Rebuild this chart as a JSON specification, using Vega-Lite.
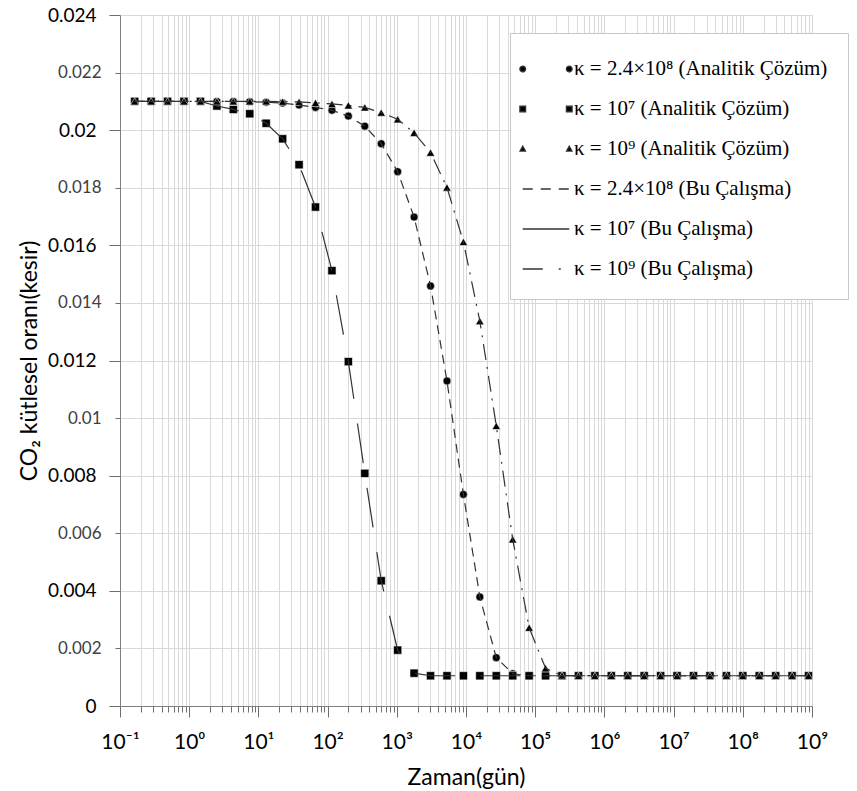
{
  "$schema": "https://vega.github.io/schema/vega-lite/v6.json",
  "width": 692,
  "height": 691,
  "autosize": {"type": "none"},
  "padding": {"left": 120, "top": 15, "right": 45, "bottom": 85},
  "background": "white",
  "config": {"view": {"stroke": null}, "font": "Lato"},
  "data": {"values": [
    {"t": 0.1631, "a24e8": 0.021, "a1e7": 0.021, "a1e9": 0.021, "b24e8": 0.021, "b1e7": 0.021, "b1e9": 0.021},
    {"t": 0.2818, "a24e8": 0.021, "a1e7": 0.021, "a1e9": 0.021, "b24e8": 0.021, "b1e7": 0.021, "b1e9": 0.021},
    {"t": 0.487, "a24e8": 0.021, "a1e7": 0.021, "a1e9": 0.021, "b24e8": 0.021, "b1e7": 0.021, "b1e9": 0.021},
    {"t": 0.8414, "a24e8": 0.021, "a1e7": 0.021, "a1e9": 0.021, "b24e8": 0.021, "b1e7": 0.021, "b1e9": 0.021},
    {"t": 1.454, "a24e8": 0.021, "a1e7": 0.021, "a1e9": 0.021, "b24e8": 0.021, "b1e7": 0.021, "b1e9": 0.021},
    {"t": 2.512, "a24e8": 0.021, "a1e7": 0.02084, "a1e9": 0.021, "b24e8": 0.021, "b1e7": 0.02084, "b1e9": 0.021},
    {"t": 4.341, "a24e8": 0.021, "a1e7": 0.02072, "a1e9": 0.021, "b24e8": 0.021, "b1e7": 0.02072, "b1e9": 0.021},
    {"t": 7.499, "a24e8": 0.02099, "a1e7": 0.02057, "a1e9": 0.021, "b24e8": 0.02099, "b1e7": 0.02057, "b1e9": 0.021},
    {"t": 12.96, "a24e8": 0.02097, "a1e7": 0.02024, "a1e9": 0.021, "b24e8": 0.02097, "b1e7": 0.02024, "b1e9": 0.021},
    {"t": 22.39, "a24e8": 0.02094, "a1e7": 0.0197, "a1e9": 0.02099, "b24e8": 0.02094, "b1e7": 0.0197, "b1e9": 0.02099},
    {"t": 38.68, "a24e8": 0.02087, "a1e7": 0.0188, "a1e9": 0.02098, "b24e8": 0.02087, "b1e7": 0.0188, "b1e9": 0.02098},
    {"t": 66.83, "a24e8": 0.02079, "a1e7": 0.01733, "a1e9": 0.02095, "b24e8": 0.02079, "b1e7": 0.01733, "b1e9": 0.02095},
    {"t": 115.5, "a24e8": 0.02069, "a1e7": 0.01512, "a1e9": 0.02091, "b24e8": 0.02069, "b1e7": 0.01512, "b1e9": 0.02091},
    {"t": 199.5, "a24e8": 0.02049, "a1e7": 0.01196, "a1e9": 0.02086, "b24e8": 0.02049, "b1e7": 0.01196, "b1e9": 0.02086},
    {"t": 344.7, "a24e8": 0.02014, "a1e7": 0.00808, "a1e9": 0.02079, "b24e8": 0.02014, "b1e7": 0.00808, "b1e9": 0.02079},
    {"t": 595.7, "a24e8": 0.01953, "a1e7": 0.00435, "a1e9": 0.02061, "b24e8": 0.01953, "b1e7": 0.00435, "b1e9": 0.02061},
    {"t": 1029, "a24e8": 0.01856, "a1e7": 0.00194, "a1e9": 0.02038, "b24e8": 0.01856, "b1e7": 0.00194, "b1e9": 0.02038},
    {"t": 1778, "a24e8": 0.01698, "a1e7": 0.00114, "a1e9": 0.01991, "b24e8": 0.01698, "b1e7": 0.00114, "b1e9": 0.01991},
    {"t": 3073, "a24e8": 0.01459, "a1e7": 0.00105, "a1e9": 0.01922, "b24e8": 0.01459, "b1e7": 0.00105, "b1e9": 0.01922},
    {"t": 5309, "a24e8": 0.01129, "a1e7": 0.00105, "a1e9": 0.01801, "b24e8": 0.01129, "b1e7": 0.00105, "b1e9": 0.01801},
    {"t": 9173, "a24e8": 0.00735, "a1e7": 0.00105, "a1e9": 0.01612, "b24e8": 0.00735, "b1e7": 0.00105, "b1e9": 0.01612},
    {"t": 15849, "a24e8": 0.00379, "a1e7": 0.00105, "a1e9": 0.01337, "b24e8": 0.00379, "b1e7": 0.00105, "b1e9": 0.01337},
    {"t": 27384, "a24e8": 0.00168, "a1e7": 0.00105, "a1e9": 0.00973, "b24e8": 0.00168, "b1e7": 0.00105, "b1e9": 0.00973},
    {"t": 47315, "a24e8": 0.00112, "a1e7": 0.00105, "a1e9": 0.00579, "b24e8": 0.00112, "b1e7": 0.00105, "b1e9": 0.00579},
    {"t": 81752, "a24e8": 0.00105, "a1e7": 0.00105, "a1e9": 0.00272, "b24e8": 0.00105, "b1e7": 0.00105, "b1e9": 0.00272},
    {"t": 141254, "a24e8": 0.00105, "a1e7": 0.00105, "a1e9": 0.00131, "b24e8": 0.00105, "b1e7": 0.00105, "b1e9": 0.00131},
    {"t": 244062, "a24e8": 0.00105, "a1e7": 0.00105, "a1e9": 0.00106, "b24e8": 0.00105, "b1e7": 0.00105, "b1e9": 0.00106},
    {"t": 421697, "a24e8": 0.00105, "a1e7": 0.00105, "a1e9": 0.00105, "b24e8": 0.00105, "b1e7": 0.00105, "b1e9": 0.00105},
    {"t": 728618, "a24e8": 0.00105, "a1e7": 0.00105, "a1e9": 0.00105, "b24e8": 0.00105, "b1e7": 0.00105, "b1e9": 0.00105},
    {"t": 1258925, "a24e8": 0.00105, "a1e7": 0.00105, "a1e9": 0.00105, "b24e8": 0.00105, "b1e7": 0.00105, "b1e9": 0.00105},
    {"t": 2175204, "a24e8": 0.00105, "a1e7": 0.00105, "a1e9": 0.00105, "b24e8": 0.00105, "b1e7": 0.00105, "b1e9": 0.00105},
    {"t": 3758374, "a24e8": 0.00105, "a1e7": 0.00105, "a1e9": 0.00105, "b24e8": 0.00105, "b1e7": 0.00105, "b1e9": 0.00105},
    {"t": 6493816, "a24e8": 0.00105, "a1e7": 0.00105, "a1e9": 0.00105, "b24e8": 0.00105, "b1e7": 0.00105, "b1e9": 0.00105},
    {"t": 11220185, "a24e8": 0.00105, "a1e7": 0.00105, "a1e9": 0.00105, "b24e8": 0.00105, "b1e7": 0.00105, "b1e9": 0.00105},
    {"t": 19386526, "a24e8": 0.00105, "a1e7": 0.00105, "a1e9": 0.00105, "b24e8": 0.00105, "b1e7": 0.00105, "b1e9": 0.00105},
    {"t": 33496544, "a24e8": 0.00105, "a1e7": 0.00105, "a1e9": 0.00105, "b24e8": 0.00105, "b1e7": 0.00105, "b1e9": 0.00105},
    {"t": 57876000, "a24e8": 0.00105, "a1e7": 0.00105, "a1e9": 0.00105, "b24e8": 0.00105, "b1e7": 0.00105, "b1e9": 0.00105},
    {"t": 100000000, "a24e8": 0.00105, "a1e7": 0.00105, "a1e9": 0.00105, "b24e8": 0.00105, "b1e7": 0.00105, "b1e9": 0.00105},
    {"t": 172780000, "a24e8": 0.00105, "a1e7": 0.00105, "a1e9": 0.00105, "b24e8": 0.00105, "b1e7": 0.00105, "b1e9": 0.00105},
    {"t": 298540000, "a24e8": 0.00105, "a1e7": 0.00105, "a1e9": 0.00105, "b24e8": 0.00105, "b1e7": 0.00105, "b1e9": 0.00105},
    {"t": 515820000, "a24e8": 0.00105, "a1e7": 0.00105, "a1e9": 0.00105, "b24e8": 0.00105, "b1e7": 0.00105, "b1e9": 0.00105},
    {"t": 891250000, "a24e8": 0.00105, "a1e7": 0.00105, "a1e9": 0.00105, "b24e8": 0.00105, "b1e7": 0.00105, "b1e9": 0.00105}
  ]},
  "resolve": {
    "scale": {"shape": "independent", "strokeDash": "independent", "size": "independent"},
    "axis": {"x": "independent", "y": "independent"}
  },
  "layer": [
    {
      "transform": [{"fold": ["a24e8", "a1e7", "a1e9", "b24e8", "b1e7", "b1e9"], "as": ["seri", "v"]}],
      "mark": {"type": "point", "filled": false, "fill": "black", "color": "#333333", "stroke": "#333333", "strokeWidth": 1.3, "size": 0},
      "encoding": {
        "x": {
          "field": "t", "type": "quantitative",
          "scale": {"type": "log", "domain": [0.1, 1000000000], "nice": false},
          "axis": {
            "orient": "bottom",
            "values": [0.2,0.3,0.4,0.5,0.6,0.7,0.8,0.9,2,3,4,5,6,7,8,9,20,30,40,50,60,70,80,90,200,300,400,500,600,700,800,900,2000,3000,4000,5000,6000,7000,8000,9000,20000,30000,40000,50000,60000,70000,80000,90000,200000,300000,400000,500000,600000,700000,800000,900000,2000000,3000000,4000000,5000000,6000000,7000000,8000000,9000000,20000000,30000000,40000000,50000000,60000000,70000000,80000000,90000000,200000000,300000000,400000000,500000000,600000000,700000000,800000000,900000000],
            "labels": false,
            "domain": false,
            "tickSize": 6,
            "tickColor": "#6f6f6f",
            "grid": true,
            "gridColor": "#d9d9d9",
            "title": null
          }
        },
        "y": {
          "field": "v", "type": "quantitative",
          "scale": {"domain": [0, 0.024], "nice": false},
          "axis": {
            "orient": "left",
            "values": [0.002,0.006,0.01,0.014,0.018,0.022],
            "format": "~g",
            "labelFont": "Lato",
            "labelFontSize": 17,
            "labelColor": "#404040",
            "labelPadding": 14,
            "tickSize": 5,
            "tickColor": "#6f6f6f",
            "domain": false,
            "grid": true,
            "gridColor": "#d9d9d9",
            "title": null
          }
        },
        "shape": {
          "field": "seri", "type": "nominal",
          "scale": {
            "domain": ["a24e8", "a1e7", "a1e9", "b24e8", "b1e7", "b1e9"],
            "range": [
              "M-1.74,0A0.19,0.19 0 1,0 -1.36,0A0.19,0.19 0 1,0 -1.74,0Z M1.36,0A0.19,0.19 0 1,0 1.74,0A0.19,0.19 0 1,0 1.36,0Z",
              "M-1.74,-0.19H-1.36V0.19H-1.74Z M1.36,-0.19H1.74V0.19H1.36Z",
              "M-1.55,-0.19L-1.37,0.14H-1.73Z M1.55,-0.19L1.73,0.14H1.37Z",
              "M-1.55,0H1.55",
              "M-1.55,0H1.55",
              "M-1.55,0H1.55"
            ]
          },
          "legend": {
            "orient": "none",
            "legendX": 390,
            "legendY": 18,
            "title": null,
            "direction": "vertical",
            "labelExpr": "datum.value === 'a24e8' ? 'κ = 2.4×10⁸ (Analitik Çözüm)' : datum.value === 'a1e7' ? 'κ = 10⁷ (Analitik Çözüm)' : datum.value === 'a1e9' ? 'κ = 10⁹ (Analitik Çözüm)' : datum.value === 'b24e8' ? 'κ = 2.4×10⁸ (Bu Çalışma)' : datum.value === 'b1e7' ? 'κ = 10⁷ (Bu Çalışma)' : 'κ = 10⁹ (Bu Çalışma)'",
            "labelFont": "Liberation Serif",
            "labelFontSize": 21,
            "labelColor": "black",
            "labelLimit": 500,
            "labelOffset": 12,
            "symbolSize": 900,
            "symbolStrokeWidth": 1.3,
            "symbolOpacity": 1,
            "padding": 20,
            "rowPadding": 14,
            "strokeColor": "#c8c8c8",
            "fillColor": "white"
          }
        },
        "strokeDash": {
          "field": "seri", "type": "nominal",
          "scale": {
            "domain": ["a24e8", "a1e7", "a1e9", "b24e8", "b1e7", "b1e9"],
            "range": [[1, 0], [1, 0], [1, 0], [10, 8], [1, 0], [20, 16, 2, 20]]
          },
          "legend": {
            "orient": "none",
            "legendX": 390,
            "legendY": 18,
            "title": null,
            "direction": "vertical",
            "labelExpr": "datum.value === 'a24e8' ? 'κ = 2.4×10⁸ (Analitik Çözüm)' : datum.value === 'a1e7' ? 'κ = 10⁷ (Analitik Çözüm)' : datum.value === 'a1e9' ? 'κ = 10⁹ (Analitik Çözüm)' : datum.value === 'b24e8' ? 'κ = 2.4×10⁸ (Bu Çalışma)' : datum.value === 'b1e7' ? 'κ = 10⁷ (Bu Çalışma)' : 'κ = 10⁹ (Bu Çalışma)'",
            "labelFont": "Liberation Serif",
            "labelFontSize": 21,
            "labelColor": "black",
            "labelLimit": 500,
            "labelOffset": 12,
            "symbolSize": 900,
            "symbolStrokeWidth": 1.3,
            "symbolOpacity": 1,
            "padding": 20,
            "rowPadding": 14,
            "strokeColor": "#c8c8c8",
            "fillColor": "white"
          }
        }
      }
    },
    {
      "transform": [{"fold": ["a24e8", "a1e7", "a1e9"], "as": ["seri", "v"]}],
      "mark": {"type": "point", "filled": true, "fill": "black", "stroke": "white", "strokeWidth": 0.6, "opacity": 1},
      "encoding": {
        "x": {
          "field": "t", "type": "quantitative",
          "axis": {
            "orient": "bottom",
            "values": [0.1,1,10,100,1000,10000,100000,1000000,10000000,100000000,1000000000],
            "labelExpr": "'10' + ['⁻¹','⁰','¹','²','³','⁴','⁵','⁶','⁷','⁸','⁹'][round(log(datum.value)/LN10)+1]",
            "labelFont": "Lato, DejaVu Sans",
            "labelFontSize": 21,
            "labelColor": "black",
            "labelPadding": 14,
            "labelFlush": false,
            "labelOverlap": false,
            "tickSize": 11,
            "tickColor": "#6f6f6f",
            "domainColor": "#7f7f7f",
            "grid": true,
            "gridColor": "#d9d9d9",
            "title": "Zaman(gün)",
            "titleFont": "Lato",
            "titleFontSize": 23,
            "titleFontWeight": "normal",
            "titleColor": "black",
            "titlePadding": 14
          }
        },
        "y": {
          "field": "v", "type": "quantitative",
          "axis": {
            "orient": "left",
            "values": [0, 0.004, 0.008, 0.012, 0.016, 0.02, 0.024],
            "format": "~g",
            "labelFont": "Lato",
            "labelFontSize": 19,
            "labelColor": "black",
            "labelPadding": 13,
            "tickSize": 11,
            "tickColor": "#6f6f6f",
            "domainColor": "#7f7f7f",
            "grid": true,
            "gridColor": "#d9d9d9",
            "title": "CO₂ kütlesel oranı(kesir)",
            "titleFont": "Lato",
            "titleFontSize": 23,
            "titleFontWeight": "normal",
            "titleColor": "black",
            "titlePadding": 6
          }
        },
        "shape": {
          "field": "seri", "type": "nominal",
          "scale": {"domain": ["a24e8", "a1e7", "a1e9"], "range": ["circle", "square", "triangle-up"]},
          "legend": null
        },
        "size": {
          "field": "seri", "type": "ordinal",
          "scale": {"domain": ["a24e8", "a1e7", "a1e9"], "range": [64, 72, 81]},
          "legend": null
        }
      }
    },
    {
      "transform": [{"fold": ["b24e8", "b1e7", "b1e9"], "as": ["seri", "v"]}],
      "mark": {"type": "line", "color": "#333333", "strokeWidth": 1.2},
      "encoding": {
        "x": {"field": "t", "type": "quantitative", "axis": null},
        "y": {"field": "v", "type": "quantitative", "axis": null},
        "strokeDash": {
          "field": "seri", "type": "nominal",
          "scale": {"domain": ["b24e8", "b1e7", "b1e9"], "range": [[9, 6], [40, 25], [16, 7, 2, 7]]},
          "legend": null
        }
      }
    }
  ]
}
